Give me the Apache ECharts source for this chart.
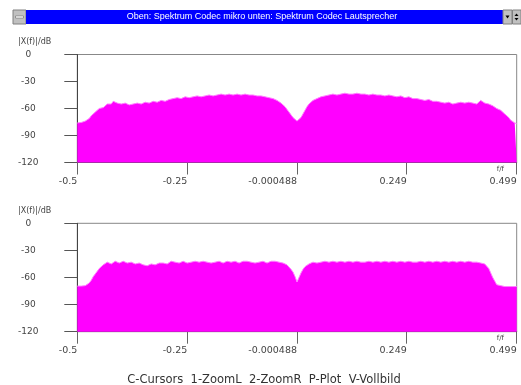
<!DOCTYPE html>
<html><head><meta charset="utf-8">
<script src="https://cdn.jsdelivr.net/npm/echarts@6/dist/echarts.min.js"></script>
<style>html,body{margin:0;padding:0;background:#fff}#c{width:521px;height:385px}</style>
</head><body><div id="c"></div><script>
const titleText = 'Oben: Spektrum Codec mikro unten: Spektrum Codec Lautsprecher';
const footerText = 'C-Cursors  1-ZoomL  2-ZoomR  P-Plot  V-Vollbild';
const yAxisName = '|X(f)|/dB';
const xAxisName = 'f/f';
const xTickValues = [-0.5, -0.25, -0.000488, 0.249, 0.499];
const yMin = -120, yMax = 0, yStep = 30;
const fStart = -0.5, fEnd = 0.499;
const specMikro = [
 -76,-77,-75.5,-75,-74,-73,-71,-68,-66,-64,
 -62,-60,-58,-59,-57,-55,-54,-55,-52,-53,
 -54,-56,-55,-53,-54,-55,-56,-54,-55,-56,
 -54,-53,-55,-56,-53,-55,-54,-52,-52,-54,
 -53,-51,-51,-53,-52,-50,-50,-51,-49,-50,
 -48,-50,-49,-47,-47,-48,-48,-46,-47,-48,
 -46,-47,-47,-45,-46,-47,-45,-46,-46,-44,
 -45,-46,-44,-45,-45,-43,-44,-45,-45,-44,
 -44,-45,-45,-43,-44,-45,-45,-44,-45,-46,
 -46,-45,-46,-47,-47,-46,-48,-47,-49,-50,
 -51,-52,-54,-56,-58,-61,-63,-67,-70,-72,
 -74,-73,-70,-66,-62,-58,-55,-53,-51,-50,
 -49,-48,-47,-48,-46,-45,-45,-46,-44,-43,
 -45,-44,-44,-43,-43,-45,-44,-43,-44,-45,
 -43,-44,-44,-43,-44,-45,-45,-43,-44,-45,
 -45,-46,-45,-44,-46,-45,-45,-46,-46,-47,
 -47,-45,-46,-48,-48,-47,-47,-49,-49,-48,
 -49,-51,-50,-49,-51,-52,-50,-51,-52,-53,
 -52,-54,-53,-52,-54,-55,-53,-54,-55,-54,
 -54,-55,-53,-52,-54,-55,-53,-52,-54,-55,
 -55,-53,-51,-53,-54,-56,-55,-56,-57,-59,
 -60,-61,-62,-64,-66,-68,-70,-73,-75,-76,
 -77
];
const specLautsprecher = [
 -69.5,-70,-69.5,-69,-69,-68,-66,-63,-59,-56,
 -53,-50,-48,-46,-44,-43,-43,-45,-44,-42,
 -43,-44,-44,-42,-43,-44,-44,-43,-44,-45,
 -43,-44,-44,-46,-45,-47,-46,-45,-45,-46,
 -46,-44,-45,-44,-44,-45,-45,-42,-40,-43,
 -43,-44,-44,-42,-43,-44,-44,-43,-43,-42,
 -44,-43,-43,-42,-44,-43,-43,-44,-42,-43,
 -43,-42,-42,-44,-43,-42,-42,-43,-43,-42,
 -42,-44,-43,-42,-43,-42,-42,-43,-43,-44,
 -42,-43,-43,-42,-42,-44,-43,-42,-43,-42,
 -42,-43,-43,-44,-44,-46,-48,-51,-54,-59,
 -65,-60,-55,-51,-48,-46,-45,-44,-43,-42,
 -44,-43,-43,-42,-42,-43,-43,-44,-42,-43,
 -43,-42,-42,-44,-43,-42,-42,-43,-43,-44,
 -42,-43,-43,-42,-43,-44,-42,-43,-43,-42,
 -42,-43,-43,-41,-42,-43,-43,-44,-42,-43,
 -43,-42,-42,-43,-43,-44,-42,-43,-43,-42,
 -43,-44,-42,-43,-43,-42,-42,-44,-43,-42,
 -42,-43,-43,-42,-42,-44,-43,-42,-42,-43,
 -43,-41,-42,-43,-43,-42,-42,-44,-43,-42,
 -43,-44,-44,-43,-45,-47,-50,-55,-60,-64,
 -68,-69,-69,-70,-70,-70,-70,-69.5,-70,-70,
 -70
];
function toPairs(arr){
  const n = arr.length;
  return arr.map((v,i)=>[fStart + i*(fEnd-fStart)/(n-1), v]);
}
const tickFont = {fontFamily:'DejaVu Sans', fontSize:9.5, color:'#444'};
function xAx(gi){
  return {type:'value', gridIndex:gi, min:fStart, max:fEnd,
    name:xAxisName, nameLocation:'end', nameGap:-20,
    nameTextStyle:{fontFamily:'DejaVu Sans', fontSize:7, color:'#444', verticalAlign:'top', padding:[3,0,0,0]},
    axisLine:{show:true, onZero:false, lineStyle:{color:'#555', width:1}},
    axisTick:{show:true, length:12, customValues:xTickValues, lineStyle:{color:'#666'}},
    axisLabel:Object.assign({customValues:xTickValues, align:'right', margin:14, showMinLabel:true, showMaxLabel:true,
      formatter:v=>String(v)}, tickFont),
    splitLine:{show:false}};
}
function yAx(gi){
  return {type:'value', gridIndex:gi, min:yMin, max:yMax, interval:yStep,
    axisLine:{show:true, onZero:false, lineStyle:{color:'#444', width:1}},
    axisTick:{show:true, length:13, lineStyle:{color:'#555'}},
    axisLabel:Object.assign({align:'center', margin:49}, tickFont, {fontSize:9}),
    splitLine:{show:false}};
}
function ser(gi, arr){
  return {type:'line', xAxisIndex:gi, yAxisIndex:gi, data:toPairs(arr), symbol:'none',
    lineStyle:{color:'#ff80ff', width:1}, areaStyle:{color:'#ff00ff', opacity:1, origin:'start'},
    silent:true, animation:false};
}
const chart = echarts.init(document.getElementById('c'), null, {renderer:'canvas'});
chart.setOption({
  backgroundColor:'#fff',
  animation:false,
  grid:[
    {left:77.3, top:54.5, width:439.4, height:108, show:true, borderColor:'#888', borderWidth:1, backgroundColor:'transparent'},
    {left:77.3, top:223.3, width:439.4, height:108.4, show:true, borderColor:'#888', borderWidth:1, backgroundColor:'transparent'}
  ],
  xAxis:[xAx(0), xAx(1)],
  yAxis:[yAx(0), yAx(1)],
  series:[ser(0, specMikro), ser(1, specLautsprecher)],
  graphic:[
    {type:'rect', shape:{x:13, y:10, width:13, height:14}, style:{fill:'#c0c0c0', stroke:'#808080', lineWidth:1}},
    {type:'rect', shape:{x:15.5, y:16, width:8, height:2}, style:{fill:'#fff', stroke:'#555', lineWidth:0.5}},
    {type:'rect', shape:{x:26, y:10, width:477, height:14}, style:{fill:'#0000ff'}},
    {type:'text', x:262, y:17, style:{text:titleText, fill:'#fff', font:'9px "Liberation Sans"', align:'center', verticalAlign:'middle'}},
    {type:'rect', shape:{x:503, y:10, width:9, height:14}, style:{fill:'#c0c0c0', stroke:'#808080', lineWidth:1}},
    {type:'rect', shape:{x:512.5, y:10, width:8.5, height:14}, style:{fill:'#c0c0c0', stroke:'#808080', lineWidth:1}},
    {type:'polygon', shape:{points:[[505.5,15.5],[509.5,15.5],[507.5,18.5]]}, style:{fill:'#000'}},
    {type:'polygon', shape:{points:[[514.5,16],[518.5,16],[516.5,13.5]]}, style:{fill:'#000'}},
    {type:'polygon', shape:{points:[[514.5,18],[518.5,18],[516.5,20.5]]}, style:{fill:'#000'}},
    {type:'text', x:18, y:42, style:{text:yAxisName, fill:'#444', font:'8px "DejaVu Sans"', verticalAlign:'middle'}},
    {type:'text', x:18, y:211, style:{text:yAxisName, fill:'#444', font:'8px "DejaVu Sans"', verticalAlign:'middle'}},
    {type:'text', x:264, y:380, style:{text:footerText, fill:'#333', font:'11.5px "DejaVu Sans"', align:'center', verticalAlign:'middle'}}
  ]
});
</script></body></html>
